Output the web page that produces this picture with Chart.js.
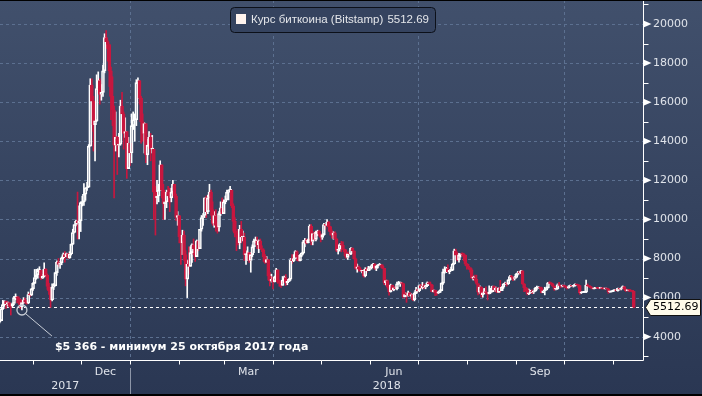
<!DOCTYPE html>
<html>
<head>
<meta charset="utf-8">
<script src="https://cdn.jsdelivr.net/npm/chart.js@4.4.1/dist/chart.umd.min.js"></script>
<style>
html,body{margin:0;padding:0;background:#2b3854;}
canvas{display:block;}
</style>
</head>
<body>
<canvas id="c" width="702" height="396"></canvas>
<script>
// ---------------- DATA ----------------
const startDate = '2017-10-10';           // first daily candle
const seriesName = 'Курс биткоина (Bitstamp)';
const yTicks = [4000, 6000, 8000, 10000, 12000, 14000, 16000, 18000, 20000];
const yMinorTicks = [3000, 5000, 7000, 9000, 11000, 13000, 15000, 17000, 19000, 21000];
const monthLabels = ['Dec', 'Mar', 'Jun', 'Sep'];
const monthLabelMonths = ['2017-12', '2018-03', '2018-06', '2018-09'];
const yearLabels = ['2017', '2018'];
const quarterGridDates = ['2018-01-01', '2018-04-01', '2018-07-01', '2018-10-01'];
const annotationText = '$5 366 - минимум 25 октября 2017 года';
const annotationDate = '2017-10-25';
const annotationValue = 5366;

const opens = [
// Oct 2017 (10..31)
4780,4760,4820,5430,5640,5820,5680,5750,5600,5570,5700,6000,6010,5980,5900,5520,5750,5890,5770,5720,6150,6130,
// Nov 2017
6450,6730,7030,7160,7380,7400,6990,7100,7460,7140,6570,6340,5880,6530,6600,7280,7820,7700,7780,8040,8200,8100,8250,8030,8230,8730,9330,9740,9900,9840,
// Dec 2017
9930,10860,10900,11290,11610,11650,13750,16870,16050,14850,15050,16700,17100,16400,16500,17600,19300,19100,18950,17600,16300,15600,13800,14200,13800,13850,15800,15400,14400,14500,12600,
// Jan 2018
13900,13400,14800,15100,15100,17000,17100,16200,15000,14400,14900,13300,13800,14200,13600,13600,11400,11100,11200,11500,12800,11500,10800,10900,11400,11200,11100,11400,11800,11200,10100,
// Feb 2018
10200,9100,8800,9200,8200,6950,7700,7600,8300,8700,8500,8100,8900,8500,9500,10100,10200,11100,10400,11100,11400,10500,9800,10200,9700,9600,10300,10600,
// Mar 2018
10300,10900,11000,11400,11500,11500,10700,9900,9300,9200,8800,9500,9100,9100,8200,8200,8300,7900,8200,8600,8900,8900,8700,8900,8500,8450,8100,7800,7950,7100,6850,
// Apr 2018
6930,6820,7050,7420,6790,6780,6620,6900,7020,6770,6830,6940,7920,7890,8000,8350,8060,7890,8160,8280,8850,8920,8800,8940,9650,8870,9280,8980,9340,9400,
// May 2018
9240,9080,9220,9740,9700,9850,9630,9370,9190,9310,9010,8420,8480,8710,8680,8480,8340,8060,8240,8230,8520,8390,7990,7500,7580,7450,7350,7350,7110,7460,7380,
// Jun 2018
7490,7530,7640,7710,7490,7620,7650,7680,7620,7500,6770,6870,6550,6310,6640,6400,6500,6460,6710,6740,6760,6720,6050,6160,6150,6250,6090,6160,5900,6220,
// Jul 2018
6390,6360,6620,6500,6590,6530,6610,6760,6710,6660,6300,6390,6240,6230,6270,6360,6740,7320,7380,7480,7330,7400,7400,7720,8400,8170,7930,8190,8230,8210,8180,
// Aug 2018
7730,7610,7540,7420,7010,7030,6940,6720,6280,6540,6150,6240,6310,6250,6190,6270,6310,6580,6390,6490,6270,6480,6360,6530,6690,6740,6700,6910,7080,7040,6980,
// Sep 2018
7030,7190,7270,7260,7370,6700,6510,6410,6200,6250,6300,6280,6330,6480,6490,6520,6500,6250,6350,6390,6490,6760,6720,6710,6590,6430,6460,6650,6620,6590,
// Oct 2018
6620,6590,6530,6500,6570,6610,6580,6600,6680,6650,6610,6250,6260,6270,6280,6640,6580,6560,6500,6450,6480,6490,6480,6470,6490,6460,6450,6460,6450,6290,6300,
// Nov 2018 (1..14)
6320,6360,6390,6360,6470,6430,6490,6560,6440,6360,6390,6370,6340,6320
];

const highs = [
// Oct 2017
4920,4880,5440,5860,5840,5800,5790,5770,5600,5730,6070,6190,6070,6040,5900,5770,6000,5980,5860,6290,6230,6470,
// Nov 2017
6770,7440,7450,7480,7580,7410,7190,7780,7480,7210,6730,6430,6710,6720,7300,7880,8000,7840,8080,8280,8360,8280,8250,8350,8750,9500,9740,9970,11400,10690,
// Dec 2017
10900,11190,11830,11610,11900,13830,17200,17200,16300,15720,17400,17550,17200,16900,17900,19500,19666,19150,18950,17800,17300,15800,15500,14250,14400,16100,16500,15500,15200,14500,14200,
// Jan 2018
13900,15400,15500,15400,17150,17250,17100,16300,15400,14950,14900,14100,14500,14400,14300,13600,11700,12000,11800,13000,12800,11800,11300,11500,11700,11600,11600,12000,11800,11300,10400,
// Feb 2018
10200,9100,9450,9400,8400,7900,8600,8600,8750,9000,8500,8950,8900,9500,10200,10300,11100,11200,11250,11800,11500,10900,10400,10500,9850,10400,10900,11100,
// Mar 2018
11000,11200,11500,11500,11700,11500,10800,10100,9400,9500,9700,9900,9400,9300,8400,8600,8300,8300,8700,9000,9100,9100,8950,9000,8650,8500,8200,8100,7950,7300,7200,
// Apr 2018
7050,7100,7500,7420,6900,6860,7080,7100,7180,6880,6980,8000,8200,8200,8400,8400,8150,8220,8300,8930,9030,9000,8990,9730,9740,9300,9380,9400,9450,9430,
// May 2018
9270,9250,9800,9750,9990,9900,9650,9460,9370,9380,9020,8640,8760,8880,8850,8480,8450,8270,8380,8560,8550,8400,8020,7720,7620,7530,7400,7440,7530,7540,7600,
// Jun 2018
7590,7690,7760,7740,7630,7690,7750,7700,7680,7500,6900,6900,6590,6690,6640,6540,6590,6790,6830,6800,6780,6730,6250,6250,6340,6270,6200,6170,6290,6530,
// Jul 2018
6440,6650,6680,6780,6690,6630,6800,6800,6800,6680,6400,6390,6330,6320,6400,6760,7460,7580,7550,7680,7420,7560,7760,8480,8480,8300,8260,8240,8290,8270,8180,
// Aug 2018
7750,7700,7540,7480,7100,7150,7150,6720,6620,6560,6460,6470,6550,6240,6600,6480,6590,6600,6550,6520,6500,6880,6560,6720,6800,6760,6930,7130,7140,7060,7080,
// Sep 2018
7240,7340,7350,7400,7380,6720,6530,6480,6440,6380,6400,6350,6530,6590,6570,6530,6530,6380,6530,6540,6780,6820,6770,6720,6590,6530,6700,6780,6620,6640,
// Oct 2018
6640,6610,6550,6610,6650,6620,6620,6700,6680,6650,6620,6300,6290,6320,6900,6700,6600,6580,6510,6490,6520,6510,6490,6530,6490,6480,6470,6470,6460,6320,6340,
// Nov 2018
6390,6410,6400,6490,6480,6500,6600,6560,6450,6400,6400,6390,6350,6330
];

const lows = [
// Oct 2017
4700,4710,4820,5380,5560,5450,5560,5520,5110,5510,5620,5890,5730,5660,5440,5366,5710,5700,5660,5690,6030,6100,
// Nov 2017
6370,6720,6940,6990,7290,6920,6980,7060,7050,6420,6160,5500,5830,6410,6600,7140,7590,7500,7680,7970,7810,8090,8000,8010,8180,8710,9310,9670,9000,9000,
// Dec 2017
9380,10690,10720,10980,11480,11650,13750,14500,13500,13000,15000,16500,15900,16100,16300,17500,18750,18100,16800,15100,14800,11100,13500,12300,13200,13800,14800,13600,14200,12100,12600,
// Jan 2018
12750,12900,14600,14000,14800,16200,15900,13900,14000,13400,12900,12800,13700,13000,13400,10000,9200,10800,10900,11500,11100,10000,10000,10600,10900,10400,10900,11400,11100,9950,9700,
// Feb 2018
8800,7700,8200,7900,6600,6000,7200,7600,7800,8200,7850,8100,8400,8500,9400,9700,10100,10100,10300,11100,10200,9700,9600,9400,9300,9400,10200,10300,
// Mar 2018
10300,10800,11000,11000,11400,10600,9400,9100,8400,8700,8500,8800,8900,7900,7700,7900,7800,7300,8100,8300,8800,8500,8300,8500,8350,7850,7750,7800,6900,6600,6800,
// Apr 2018
6440,6800,7050,6730,6580,6520,6620,6900,6620,6660,6810,6880,7750,7840,8000,7900,7860,7880,8100,8220,8600,8750,8800,8920,8700,8700,8920,8900,9180,9150,
// May 2018
8850,8980,9180,9500,9690,9400,9200,9050,8990,8990,8350,8230,8380,8340,8450,8140,8020,7950,8160,8200,8320,7970,7450,7300,7370,7330,7260,7050,7060,7290,7380,
// Jun 2018
7400,7460,7620,7440,7380,7520,7630,7540,7500,6660,6650,6480,6120,6280,6380,6350,6450,6400,6670,6570,6690,5980,6040,5760,6080,6060,6020,5850,5830,6200,
// Jul 2018
6280,6300,6460,6440,6460,6450,6560,6690,6630,6290,6290,6100,6120,6210,6250,6350,6680,7250,7280,7300,7220,7360,7380,7700,8050,7880,7820,8080,8120,7880,7650,
// Aug 2018
7450,7460,7300,6960,6900,6850,6680,6140,6220,6030,6020,6200,6170,5880,6200,6230,6290,6300,6320,6250,6260,6280,6350,6470,6670,6590,6670,6880,6960,6870,6900,
// Sep 2018
7000,7150,7200,7220,6680,6300,6330,6140,6150,6230,6200,6210,6320,6400,6480,6420,6240,6250,6140,6380,6480,6680,6660,6570,6370,6400,6420,6590,6520,6550,
// Oct 2018
6540,6500,6450,6480,6550,6560,6540,6580,6620,6520,6170,6210,6250,6260,6250,6550,6530,6480,6440,6440,6470,6460,6450,6460,6440,6430,6440,6440,6220,6260,6280,
// Nov 2018
6310,6350,6340,6330,6400,6400,6480,6410,6320,6350,6300,6320,6290,5480
];

const closes = [
// Oct 2017
4760,4820,5430,5640,5820,5680,5750,5600,5570,5700,6000,6010,5980,5900,5520,5750,5890,5770,5720,6150,6130,6450,
// Nov 2017
6730,7030,7160,7380,7400,6990,7100,7460,7140,6570,6340,5880,6530,6600,7280,7820,7700,7780,8040,8200,8100,8250,8030,8230,8730,9330,9740,9900,9840,9930,
// Dec 2017
10860,10900,11290,11610,11650,13750,16870,16050,14850,15050,16700,17100,16400,16500,17600,19300,19100,18950,17600,16300,15600,13800,14200,13800,13850,15800,15400,14400,14500,12600,13900,
// Jan 2018
13400,14800,15100,15100,17000,17100,16200,15000,14400,14900,13300,13800,14200,13600,13600,11400,11100,11200,11500,12800,11500,10800,10900,11400,11200,11100,11400,11800,11200,10100,10200,
// Feb 2018
9100,8800,9200,8200,6950,7700,7600,8300,8700,8500,8100,8900,8500,9500,10100,10200,11100,10400,11100,11400,10500,9800,10200,9700,9600,10300,10600,10300,
// Mar 2018
10900,11000,11400,11500,11500,10700,9900,9300,9200,8800,9500,9100,9100,8200,8200,8300,7900,8200,8600,8900,8900,8700,8900,8500,8450,8100,7800,7950,7100,6850,6930,
// Apr 2018
6820,7050,7420,6790,6780,6620,6900,7020,6770,6830,6940,7920,7890,8000,8350,8060,7890,8160,8280,8850,8920,8800,8940,9650,8870,9280,8980,9340,9400,9240,
// May 2018
9080,9220,9740,9700,9850,9630,9370,9190,9310,9010,8420,8480,8710,8680,8480,8340,8060,8240,8230,8520,8390,7990,7500,7580,7450,7350,7350,7110,7460,7380,7490,
// Jun 2018
7530,7640,7710,7490,7620,7650,7680,7620,7500,6770,6870,6550,6310,6640,6400,6500,6460,6710,6740,6760,6720,6050,6160,6150,6250,6090,6160,5900,6220,6390,
// Jul 2018
6360,6620,6500,6590,6530,6610,6760,6710,6660,6300,6390,6240,6230,6270,6360,6740,7320,7380,7480,7330,7400,7400,7720,8400,8170,7930,8190,8230,8210,8180,7730,
// Aug 2018
7610,7540,7420,7010,7030,6940,6720,6280,6540,6150,6240,6310,6250,6190,6270,6310,6580,6390,6490,6270,6480,6360,6530,6690,6740,6700,6910,7080,7040,6980,7030,
// Sep 2018
7190,7270,7260,7370,6700,6510,6410,6200,6250,6300,6280,6330,6480,6490,6520,6500,6250,6350,6390,6490,6760,6720,6710,6590,6430,6460,6650,6620,6590,6620,
// Oct 2018
6590,6530,6500,6570,6610,6580,6600,6680,6650,6610,6250,6260,6270,6280,6640,6580,6560,6500,6450,6480,6490,6480,6470,6490,6460,6450,6460,6450,6290,6300,6320,
// Nov 2018
6360,6390,6360,6470,6430,6490,6560,6440,6360,6390,6370,6340,6320,5512.69
];

// ---------------- HELPERS ----------------
const MS_DAY = 86400000;
const REF = Date.UTC(2018, 0, 1);
function dayOf(str) {
  const p = str.split('-').map(Number);
  return (Date.UTC(p[0], p[1] - 1, p[2] || 1) - REF) / MS_DAY;
}
const firstDay = dayOf(startDate);
const days = closes.map((_, i) => firstDay + i);

const UP = '#ffffff';
const DOWN = '#c8173f';
const isUp = i => closes[i] >= opens[i];

const bodyData = days.map((d, i) => ({ x: d, y: [opens[i], closes[i]] }));
const upperWick = days.map((d, i) => ({ x: d, y: [Math.max(opens[i], closes[i]), Math.max(highs[i], opens[i], closes[i])] }));
const lowerWick = days.map((d, i) => ({ x: d, y: [Math.min(lows[i], opens[i], closes[i]), Math.min(opens[i], closes[i])] }));

const xMin = -81.8, xMax = 322.8;
const yMin = 2808, yMax = 21228;

const FONT = '"DejaVu Sans", sans-serif';

// ---------------- PLUGINS ----------------
const bgPlugin = {
  id: 'bg',
  beforeDraw(chart) {
    const c = chart.ctx, W = chart.width, H = chart.height;
    const g = c.createLinearGradient(0, 0, 0, H);
    g.addColorStop(0, '#41506c');
    g.addColorStop(1, '#2a3753');
    c.save();
    c.fillStyle = g;
    c.fillRect(0, 0, W, H);
    c.restore();
  }
};

const gridPlugin = {
  id: 'grid',
  beforeDatasetsDraw(chart) {
    const c = chart.ctx, a = chart.chartArea;
    const xs = chart.scales.x, ys = chart.scales.y;
    c.save();
    c.strokeStyle = '#5c7090';
    c.lineWidth = 1;
    c.setLineDash([3, 3]);
    yTicks.forEach(v => {
      const y = Math.round(ys.getPixelForValue(v)) + 0.5;
      c.beginPath(); c.moveTo(a.left, y); c.lineTo(a.right, y); c.stroke();
    });
    quarterGridDates.forEach(s => {
      const x = Math.round(xs.getPixelForValue(dayOf(s))) + 0.5;
      c.beginPath(); c.moveTo(x, a.top); c.lineTo(x, a.bottom); c.stroke();
    });
    // last price dashed line
    const last = closes[closes.length - 1];
    const yl = Math.round(ys.getPixelForValue(last)) + 0.5;
    c.strokeStyle = '#ffffff';
    c.setLineDash([3, 3]);
    c.beginPath(); c.moveTo(a.left, yl); c.lineTo(a.right, yl); c.stroke();
    c.restore();
  }
};

const decorPlugin = {
  id: 'decor',
  afterDraw(chart) {
    const c = chart.ctx, a = chart.chartArea;
    const xs = chart.scales.x, ys = chart.scales.y;
    const W = chart.width, H = chart.height;
    c.save();
    // axes lines
    c.strokeStyle = '#ffffff';
    c.lineWidth = 1;
    c.setLineDash([]);
    const ax = Math.round(a.right) + 0.5;
    const ay = Math.round(a.bottom) + 0.5;
    c.beginPath(); c.moveTo(ax, 0); c.lineTo(ax, ay); c.stroke();
    c.beginPath(); c.moveTo(a.left, ay); c.lineTo(ax, ay); c.stroke();
    // y major tick triangles
    c.fillStyle = '#ffffff';
    yTicks.forEach(v => {
      const y = ys.getPixelForValue(v);
      c.beginPath(); c.moveTo(ax, y - 3.5); c.lineTo(ax + 8, y); c.lineTo(ax, y + 3.5); c.closePath(); c.fill();
    });
    // y minor ticks
    yMinorTicks.forEach(v => {
      const y = Math.round(ys.getPixelForValue(v)) + 0.5;
      c.beginPath(); c.moveTo(ax, y); c.lineTo(ax + 5, y); c.stroke();
    });
    // x month ticks
    for (let yy = 2017; yy <= 2018; yy++) {
      for (let m = 1; m <= 12; m++) {
        const d = dayOf(yy + '-' + String(m).padStart(2, '0') + '-01');
        const x = xs.getPixelForValue(d);
        if (x < a.left || x > a.right) continue;
        const xr = Math.round(x) + 0.5;
        c.beginPath(); c.moveTo(xr, ay); c.lineTo(xr, ay + 4); c.stroke();
      }
    }
    // month labels
    c.fillStyle = '#dfe3ea';
    c.font = '11px ' + FONT;
    c.textAlign = 'center';
    c.textBaseline = 'middle';
    monthLabels.forEach((t, i) => {
      const p = monthLabelMonths[i].split('-').map(Number);
      const s = dayOf(monthLabelMonths[i] + '-01');
      const nm = p[1] === 12 ? (p[0] + 1) + '-01-01' : p[0] + '-' + String(p[1] + 1).padStart(2, '0') + '-01';
      const e = dayOf(nm);
      const x = (xs.getPixelForValue(s) + xs.getPixelForValue(e)) / 2;
      c.fillText(t, x, 372);
    });
    // year separator + year labels
    const xJan = Math.round(xs.getPixelForValue(dayOf('2018-01-01'))) + 0.5;
    c.strokeStyle = '#8d96a8';
    c.beginPath(); c.moveTo(xJan, 368); c.lineTo(xJan, H); c.stroke();
    c.fillText(yearLabels[0], (a.left + xJan) / 2, 386);
    c.fillText(yearLabels[1], (xJan + a.right) / 2, 386);

    // annotation circle + leader + text
    const cx = xs.getPixelForValue(dayOf(annotationDate));
    const cy = ys.getPixelForValue(annotationValue);
    c.strokeStyle = '#c8cdd6';
    c.lineWidth = 1.3;
    c.beginPath(); c.arc(cx, cy, 5, 0, Math.PI * 2); c.stroke();
    c.lineWidth = 1;
    c.beginPath(); c.moveTo(cx + 3.6, cy + 3.6); c.lineTo(cx + 30, cy + 26); c.stroke();
    c.fillStyle = '#ffffff';
    c.font = 'bold 11px ' + FONT;
    c.textAlign = 'left';
    c.fillText(annotationText, cx + 33, cy + 37);

    // legend box
    const last = closes[closes.length - 1].toFixed(2);
    c.fillStyle = '#35435f';
    c.strokeStyle = '#0c1019';
    c.lineWidth = 1;
    c.beginPath();
    if (c.roundRect) c.roundRect(230.5, 7.5, 205, 25, 4); else c.rect(230.5, 7.5, 205, 25);
    c.fill(); c.stroke();
    c.fillStyle = '#fff3ee';
    c.fillRect(236, 14, 10, 10);
    c.fillStyle = '#e4e6ea';
    c.font = '11.5px "Liberation Sans", Arial, sans-serif';
    c.textAlign = 'left';
    c.textBaseline = 'middle';
    c.fillText(seriesName, 251, 20);
    c.textAlign = 'right';
    c.fillText(last, 429, 20);

    // price tag on axis
    const py = Math.round(ys.getPixelForValue(closes[closes.length - 1])) + 0.5;
    c.fillStyle = '#fffbea';
    c.strokeStyle = '#111111';
    c.beginPath();
    c.moveTo(645.5, py);
    c.lineTo(650.5, py - 8);
    c.lineTo(700.5, py - 8);
    c.lineTo(700.5, py + 8);
    c.lineTo(650.5, py + 8);
    c.closePath();
    c.fill(); c.stroke();
    c.fillStyle = '#000000';
    c.font = '11px ' + FONT;
    c.textAlign = 'left';
    c.fillText(last, 653, py);

    // frame borders
    c.fillStyle = '#000000';
    c.fillRect(0, 0, W, 1);
    c.fillRect(0, H - 2, W, 2);
    c.restore();
  }
};

// ---------------- CHART ----------------
function noPad(s) { s.paddingTop = 0; s.paddingBottom = 0; s.paddingLeft = 0; s.paddingRight = 0; }

new Chart(document.getElementById('c'), {
  type: 'bar',
  data: {
    datasets: [
      {
        label: 'body',
        data: bodyData,
        grouped: false,
        barThickness: 3,
        minBarLength: 1,
        borderWidth: 1,
        borderSkipped: false,
        backgroundColor: days.map((_, i) => isUp(i) ? 'rgba(0,0,0,0)' : DOWN),
        borderColor: days.map((_, i) => isUp(i) ? UP : DOWN)
      },
      {
        label: 'upper wick',
        data: upperWick,
        grouped: false,
        barThickness: 1,
        borderWidth: 0,
        backgroundColor: days.map((_, i) => isUp(i) ? UP : DOWN)
      },
      {
        label: 'lower wick',
        data: lowerWick,
        grouped: false,
        barThickness: 1,
        borderWidth: 0,
        backgroundColor: days.map((_, i) => isUp(i) ? UP : DOWN)
      }
    ]
  },
  options: {
    responsive: false,
    animation: false,
    devicePixelRatio: 1,
    layout: { padding: 0 },
    plugins: { legend: { display: false }, tooltip: { enabled: false } },
    scales: {
      x: {
        type: 'linear',
        min: xMin,
        max: xMax,
        offset: false,
        grid: { display: false, drawTicks: false },
        border: { display: false },
        ticks: { display: false },
        afterFit(s) { s.height = 36; noPad(s); }
      },
      y: {
        type: 'linear',
        position: 'right',
        min: yMin,
        max: yMax,
        grid: { display: false, drawTicks: false },
        border: { display: false },
        afterBuildTicks(s) { s.ticks = yTicks.map(v => ({ value: v })); },
        ticks: {
          color: '#dfe3ea',
          font: { family: 'DejaVu Sans', size: 11 },
          padding: 10,
          callback: v => String(v)
        },
        afterFit(s) { s.width = 59; noPad(s); }
      }
    }
  },
  plugins: [bgPlugin, gridPlugin, decorPlugin]
});
</script>
</body>
</html>
